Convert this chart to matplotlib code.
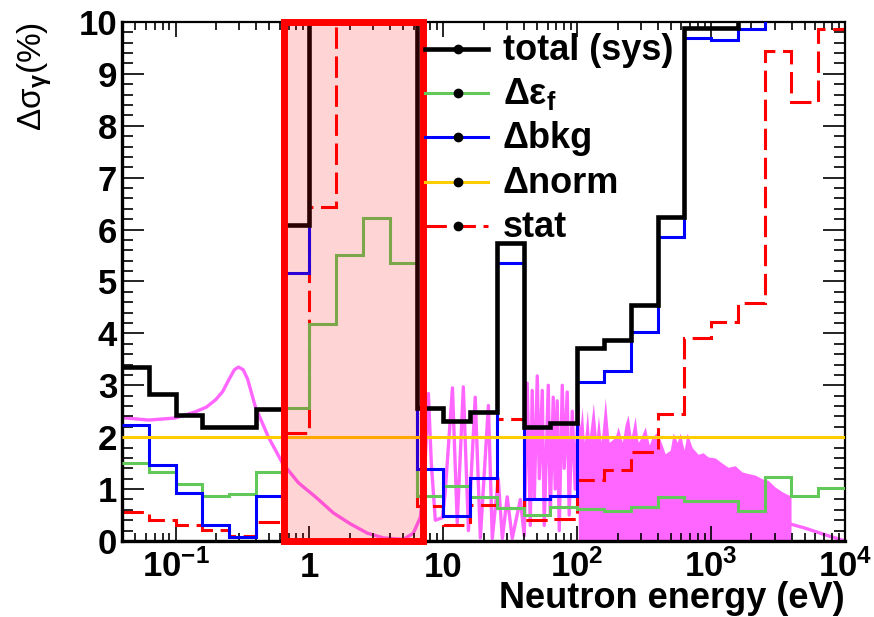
import numpy as np
import matplotlib
matplotlib.use("Agg")
import matplotlib.pyplot as plt
from matplotlib.lines import Line2D
from matplotlib.patches import Rectangle
from matplotlib.ticker import FixedLocator, LogLocator, MultipleLocator, NullFormatter

# bin edges (eV), 0.2 decade bins
bin_edges = [0.0398, 0.0631, 0.1, 0.158, 0.251, 0.398, 0.631, 1.0, 1.585, 2.512,
             3.981, 6.31, 10.0, 15.85, 25.12, 39.81, 63.1, 100.0, 158.5, 251.2,
             398.1, 631.0, 1000.0, 1585.0, 2512.0, 3981.0, 6310.0, 10000.0]

# uncertainties (%) per bin, values above 10 run off the frame
total_sys = [3.35, 2.83, 2.43, 2.20, 2.20, 2.54, 6.09, 12, 12, 12, 12, 2.56, 2.31, 2.49,
             5.74, 2.20, 2.27, 3.72, 3.88, 4.55, 6.25, 9.88, 9.88, 12, 12, 12, 12]
d_eff = [1.50, 1.33, 1.10, 0.87, 0.90, 1.33, 2.56, 4.18, 5.51, 6.22, 5.35, 0.87, 1.06, 0.85,
         0.63, 0.50, 0.66, 0.62, 0.58, 0.66, 0.85, 0.77, 0.77, 0.58, 1.23, 0.87, 1.02]
d_bkg = [2.24, 1.47, 0.92, 0.31, 0.08, 0.87, 5.16, 12, 12, 12, 12, 1.39, 0.48, 1.21,
         5.36, 0.81, 0.87, 3.06, 3.28, 4.03, 5.86, 9.69, 9.65, 9.86, 12, 12, 12]
d_norm = [2.0] * 27
stat = [0.56, 0.40, 0.31, 0.21, 0.10, 0.37, 2.08, 6.44, 12, 12, 12, 0.68, 0.31, 0.69,
        2.35, 0.40, 0.43, 1.17, 1.36, 1.72, 2.44, 3.92, 4.21, 4.58, 9.44, 8.46, 9.86]

# cross section shape (arbitrary units) - thermal + resolved resonances
xs_energy = [0.0402, 0.0422, 0.063, 0.1, 0.141, 0.17, 0.199, 0.225, 0.249, 0.275, 0.295,
             0.32, 0.345, 0.395, 0.494, 0.629, 0.828, 1.109, 1.51, 2.02, 2.71, 3.57,
             5.03, 5.97, 6.74, 7.21, 7.73, 8.13, 8.71, 9.84, 10.3, 11.7, 12.7, 14.1,
             15.4, 17.3, 18.9, 21.7, 23.2, 25.7, 27.6, 30.0, 32.7, 37.6, 40.2, 42.3,
             44.6, 46.1, 47.8, 50.3, 52.1, 54.8, 56.7, 60.8, 62.9, 66.2, 68.5, 70.9,
             73.4, 77.3, 80.0, 84.2, 87.1, 91.8, 96.6, 101.7]
xs_value = [2.38, 2.37, 2.33, 2.37, 2.49, 2.58, 2.72, 2.88, 3.10, 3.30, 3.35,
            3.30, 3.12, 2.58, 2.00, 1.50, 1.12, 0.85, 0.54, 0.33, 0.15, 0.06,
            0.03, 0.15, 0.46, 1.2, 2.84, 1.5, 0.4, 0.45, 0.9, 2.95, 0.35, 2.97,
            0.2, 2.77, 0.06, 2.61, 0.05, 1.2, 0.05, 0.85, 0.05, 0.8, 0.1, 3.04,
            0.3, 2.9, 0.8, 3.18, 1.2, 2.9, 0.3, 3.0, 0.5, 2.77, 1.0, 2.7,
            0.2, 3.0, 1.4, 2.87, 0.5, 2.5, 1.0, 2.6]
# dense resonance region, upper envelope
dense_energy = [101.7, 105, 109, 113, 119, 123, 132, 139, 144, 151, 162, 173, 183, 192,
                202, 217, 228, 240, 253, 271, 285, 295, 322, 345, 363, 396, 431, 454,
                495, 521, 558, 588, 629, 662, 722, 800, 872, 950, 1072, 1209, 1340,
                1511, 1703, 1888, 2129, 2402, 2663, 3004, 3388, 3757, 3955]
dense_value = [2.6, 2.2, 2.58, 1.9, 2.52, 2.0, 2.66, 2.0, 2.42, 1.9, 2.76, 1.9, 1.95, 2.0,
               2.2, 1.9, 2.25, 2.43, 2.0, 2.4, 1.9, 1.96, 2.2, 1.85, 2.0, 2.1, 1.85, 1.68,
               1.75, 2.08, 1.9, 2.08, 1.75, 2.08, 1.8, 1.67, 1.7, 1.62, 1.6, 1.5, 1.42,
               1.45, 1.33, 1.3, 1.27, 1.2, 1.17, 1.04, 0.95, 0.89, 0.88]
tail_energy = [3990, 5000, 7100, 10000]
tail_value = [0.32, 0.25, 0.12, 0.0]

xtick_vals = [0.1, 1, 10, 100, 1000, 10000]
xtick_labels = [r"$\mathbf{10^{-1}}$", "1", "10", r"$\mathbf{10^{2}}$",
                r"$\mathbf{10^{3}}$", r"$\mathbf{10^{4}}$"]

plt.rcParams["font.family"] = ["Liberation Sans", "DejaVu Sans"]
plt.rcParams["font.weight"] = "bold"
plt.rcParams["mathtext.fontset"] = "custom"
plt.rcParams["mathtext.rm"] = "Liberation Sans"
plt.rcParams["mathtext.bf"] = "Liberation Sans:bold"
plt.rcParams["mathtext.it"] = "Liberation Sans:italic"
plt.rcParams["mathtext.default"] = "bf"

magenta = "#ff66ff"
green = "#62c85a"
orange = "#ffcc00"

fig = plt.figure(figsize=(8.74, 6.17), dpi=100)
ax = fig.add_axes([0.1396, 0.1232, 0.8272, 0.8412])

# cross section shape in the background
ax.plot(xs_energy, xs_value, color=magenta, lw=2.4, zorder=1)
ax.fill_between(dense_energy, 0, dense_value, color=magenta, lw=0, zorder=1)
ax.plot(tail_energy, tail_value, color=magenta, lw=2.4, zorder=1)

# uncertainty histograms
ax.stairs(stat, bin_edges, baseline=None, color="red", lw=2.2,
          linestyle=(0, (7, 2.5)), zorder=2)
ax.stairs(d_eff, bin_edges, baseline=None, color=green, lw=2.2, zorder=3)
ax.stairs(d_bkg, bin_edges, baseline=None, color="blue", lw=2.2, zorder=4)
ax.stairs(total_sys, bin_edges, baseline=None, color="black", lw=3.3, zorder=5)
ax.stairs(d_norm, bin_edges, baseline=None, color=orange, lw=2.2, zorder=6)

# highlighted region
box = Rectangle((0.65, 0), 7.0 - 0.65, 10, facecolor=(1, 0, 0, 0.17),
                edgecolor="red", lw=5, zorder=7, clip_on=False)
ax.add_patch(box)

ax.set_xscale("log")
ax.set_xlim(bin_edges[0], 1e4)
ax.set_ylim(0, 10)

ax.xaxis.set_major_locator(FixedLocator(xtick_vals))
ax.set_xticklabels(xtick_labels)
ax.xaxis.set_minor_locator(LogLocator(base=10, subs=np.arange(2, 10) * 1.0, numticks=20))
ax.xaxis.set_minor_formatter(NullFormatter())
ax.yaxis.set_major_locator(MultipleLocator(1))
ax.yaxis.set_minor_locator(MultipleLocator(0.2))

ax.tick_params(axis="both", which="both", direction="in", top=True, right=True,
               labelsize=25, width=1.2)
ax.tick_params(axis="x", which="major", length=11, pad=26)
ax.tick_params(axis="x", which="minor", length=6)
ax.tick_params(axis="y", which="major", length=16, pad=3.5)
ax.tick_params(axis="y", which="minor", length=8)
for t in ax.get_xticklabels():
    t.set_va("baseline")

for side in ["left", "bottom"]:
    ax.spines[side].set_linewidth(2.4)
for side in ["top", "right"]:
    ax.spines[side].set_linewidth(1.6)

ax.set_xlabel("Neutron energy (eV)", fontsize=26, fontweight="bold", loc="right",
              va="baseline")
ax.xaxis.set_label_coords(1.0, -0.129)
ax.set_ylabel(r"Δσ$_{\mathrm{\gamma}}$(%)", fontsize=24, fontweight="normal", loc="top")
ax.yaxis.set_label_coords(-0.094, 1.0)

# legend drawn by hand, ROOT style (line with a dot)
leg_labels = ["total (sys)", r"Δε$_\mathbf{f}$", "Δbkg", "Δnorm", "stat"]
leg_colors = ["black", green, "blue", orange, "red"]
leg_widths = [3.3, 2.2, 2.2, 2.2, 2.2]
leg_styles = ["-", "-", "-", "-", (0, (7, 2.5))]
leg_rows = [49, 93, 137, 182, 226]
W, H = 874.0, 617.0
for lab, col, lw, ls, py in zip(leg_labels, leg_colors, leg_widths, leg_styles, leg_rows):
    yf = 1 - py / H
    fig.add_artist(Line2D([425 / W, 488 / W], [yf, yf], color=col, lw=lw, ls=ls,
                          transform=fig.transFigure, zorder=10))
    fig.add_artist(Line2D([458 / W], [yf], color="black", marker="o", markersize=6,
                          transform=fig.transFigure, zorder=11))
    fig.text(503 / W, 1 - (py + 11) / H, lab, fontsize=26, va="baseline", ha="left")

fig.savefig("out.png", dpi=100)
